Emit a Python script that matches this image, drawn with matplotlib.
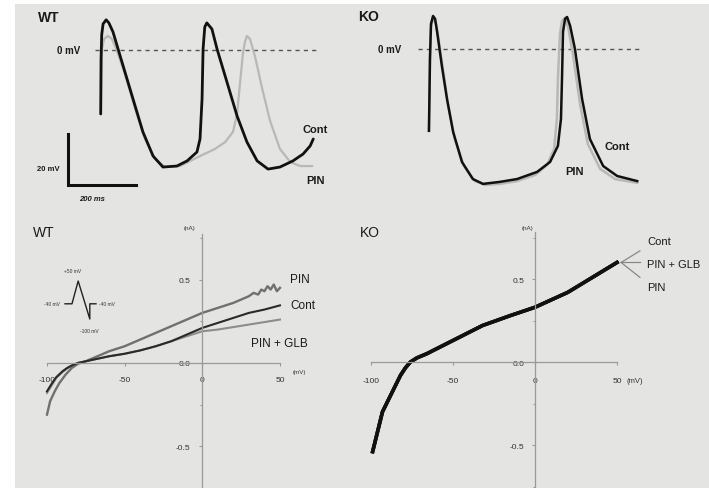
import matplotlib
matplotlib.use("Agg")
import matplotlib.pyplot as plt
from matplotlib.patches import Rectangle

plt.rcParams['font.family'] = ['Liberation Sans', 'DejaVu Sans']

# ---------------- data ----------------
# WT action potentials (time ms, membrane potential mV)
wt_cont_t = [0, 1, 3, 7, 16, 24, 36, 66, 95, 124, 154, 183, 224, 254, 283, 292, 298, 301, 306, 312,
             327, 342, 371, 401, 430, 460, 492, 527, 565, 595, 616, 625]
wt_cont_v = [-25.1, -3.5, 6, 10.2, 11.8, 10.6, 7.1, -6.3, -19.2, -32.1, -41.6, -45.9, -45.5, -43.5, -40,
             -34.9, -19.2, 0.4, 9, 10.6, 8.2, 0.4, -12.5, -25.9, -36.1, -43.5, -46.7, -45.9, -43.5,
             -40.8, -37.6, -34.9]
wt_pin_t = [0, 4, 10, 21, 33, 48, 71, 101, 130, 160, 189, 233, 292, 336, 366, 389, 401, 410, 418, 424,
            430, 439, 454, 475, 498, 527, 557, 586, 622]
wt_pin_v = [-25.1, 0.4, 4.3, 5.5, 4.3, -0.4, -9.4, -23.1, -34.9, -42.7, -45.9, -45.5, -41.6, -38.8,
            -36.1, -32.1, -25.1, -12.5, -1.6, 3.1, 5.5, 4.3, -2.7, -15.3, -27.8, -38.8, -43.9, -45.5, -45.5]

# KO action potentials
ko_cont_t = [0, 3, 6, 12, 18, 24, 38, 53, 71, 97, 129, 159, 209, 259, 318, 356, 379, 388, 391, 394,
             400, 406, 415, 429, 450, 473, 512, 553, 612]
ko_cont_v = [-32.1, -3.9, 9.8, 12.9, 11.8, 6.7, -6.7, -19.6, -32.5, -44.3, -51, -52.9, -52.1, -51,
             -48.2, -44.3, -38, -27.4, -11.8, 6.7, 11.8, 12.5, 9, 0, -19.6, -35.3, -45.9, -49.8, -51.8]
ko_pin_t = [0, 3, 6, 12, 21, 26, 41, 56, 76, 103, 135, 165, 209, 259, 312, 347, 368, 376, 379, 385,
            391, 400, 409, 423, 444, 467, 503, 547, 612]
ko_pin_v = [-32.1, -3.9, 8.6, 12.2, 9.8, 5.9, -7.8, -21.6, -35.3, -45.9, -51.8, -53.3, -52.9, -51.8,
            -49.4, -45.5, -39.2, -27.4, -11.8, 5.9, 11, 12.2, 8.6, -2, -21.6, -37.3, -47, -51, -52.5]

# WT ramp I-V (mV, nA)
iv_v = [-100, -97, -94, -90, -87, -84, -80, -75, -70, -60, -50, -40, -30, -20, -10, 0, 10, 20, 30, 40, 50]
wt_iv_cont = [-0.17, -0.125, -0.085, -0.05, -0.03, -0.015, 0.0, 0.01, 0.02, 0.04, 0.055, 0.075, 0.10,
              0.13, 0.17, 0.21, 0.24, 0.27, 0.30, 0.32, 0.345]
wt_iv_glb = [-0.18, -0.135, -0.09, -0.055, -0.033, -0.017, 0.0, 0.01, 0.02, 0.04, 0.055, 0.075, 0.10,
             0.13, 0.16, 0.19, 0.20, 0.215, 0.23, 0.245, 0.26]
wt_iv_pin_v = [-100, -98, -95, -92, -88, -84, -80, -75, -70, -60, -50, -40, -30, -20, -10, 0, 10, 20,
               25, 30, 33, 36, 38, 40, 42, 44, 46, 48, 50]
wt_iv_pin = [-0.31, -0.23, -0.17, -0.12, -0.07, -0.03, -0.005, 0.01, 0.03, 0.07, 0.10, 0.14, 0.18, 0.22,
             0.26, 0.30, 0.33, 0.36, 0.38, 0.40, 0.42, 0.41, 0.44, 0.43, 0.46, 0.44, 0.47, 0.43, 0.45]

# KO ramp I-V (all three conditions superimpose)
ko_iv_v = [-99, -96, -93, -90, -88, -85, -82, -79, -76, -72, -66, -59, -52, -42, -32, -15, 0, 10, 20,
           35, 50]
ko_iv_cont = [-0.54, -0.42, -0.30, -0.24, -0.20, -0.14, -0.08, -0.035, 0.0, 0.025, 0.05, 0.085, 0.12,
              0.17, 0.22, 0.28, 0.33, 0.375, 0.42, 0.51, 0.60]
ko_iv_pin = list(ko_iv_cont)
ko_iv_glb = list(ko_iv_cont)

# ramp protocol (arbitrary time, mV)
prot_t = [0, 0.9, 1.7, 3.2, 3.2, 4.0]
prot_v = [-40, -40, 50, -100, -40, -40]

x_ticks = [-100, -50, 0, 50]
x_ticklabels = ['-100', '-50', '0', '50']
y_ticks = [-0.5, 0.0, 0.5]
y_ticklabels = ['-0.5', '0.0', '0.5']

# ---------------- figure ----------------
W, H = 709, 489
fig = plt.figure(figsize=(W / 100, H / 100), dpi=100)
fig.patch.set_facecolor('white')
BG = '#e4e4e2'
fig.add_artist(Rectangle((15 / W, 0), 1 - 15 / W, 1 - 5 / H, transform=fig.transFigure,
                         facecolor=BG, edgecolor='none', zorder=-10))


def fbox(x0, y0, x1, y1):
    return [x0 / W, 1 - y1 / H, (x1 - x0) / W, (y1 - y0) / H]


TXT = '#1a1a1a'
AXC = '#9a9a9a'

# ---- top-left: WT APs ----
ax1 = fig.add_axes(fbox(15, 5, 350, 215))
ax1.patch.set_alpha(0)
ax1.axis('off')
ax1.set_xlim(-252, 733)
ax1.set_ylim(-64.3, 18.0)
ax1.plot([-17, 640], [0, 0], color='#555555', lw=1.0, ls=(0, (3, 3)))
ax1.plot(wt_pin_t, wt_pin_v, color='#b8b8b8', lw=1.6, solid_capstyle='round', solid_joinstyle='round')
ax1.plot(wt_cont_t, wt_cont_v, color='#111111', lw=2.0, solid_capstyle='round', solid_joinstyle='round')
ax1.text(-184, 12.9, 'WT', fontsize=10, fontweight='bold', color=TXT, va='center', ha='left')
ax1.text(-61, 0, '0 mV', fontsize=7, fontweight='bold', color=TXT, va='center', ha='right')
ax1.text(630, -31, 'Cont', fontsize=8, fontweight='bold', color=TXT, va='center', ha='center')
ax1.text(633, -51, 'PIN', fontsize=8, fontweight='bold', color=TXT, va='center', ha='center')
ax1.plot([-96, -96, 104], [-32.9, -52.9, -52.9], color='#111111', lw=2.2, solid_joinstyle='miter')
ax1.text(-120, -46.6, '20 mV', fontsize=5.5, fontweight='bold', color=TXT, va='center', ha='right')
ax1.text(-26, -58.2, '200 ms', fontsize=5.5, fontweight='bold', style='italic', color=TXT,
         va='center', ha='center')

# ---- top-right: KO APs ----
ax2 = fig.add_axes(fbox(350, 5, 709, 215))
ax2.patch.set_alpha(0)
ax2.axis('off')
ax2.set_xlim(-232, 823)
ax2.set_ylim(-64.7, 17.6)
ax2.plot([-32, 626], [0, 0], color='#555555', lw=1.0, ls=(0, (3, 3)))
ax2.plot(ko_pin_t, ko_pin_v, color='#b8b8b8', lw=1.8, solid_joinstyle='round')
ax2.plot(ko_cont_t, ko_cont_v, color='#111111', lw=1.8, solid_joinstyle='round')
ax2.text(-209, 12.9, 'KO', fontsize=10, fontweight='bold', color=TXT, va='center', ha='left')
ax2.text(-82, 0, '0 mV', fontsize=7, fontweight='bold', color=TXT, va='center', ha='right')
ax2.text(553, -38, 'Cont', fontsize=8, fontweight='bold', color=TXT, va='center', ha='center')
ax2.text(429, -47.8, 'PIN', fontsize=8, fontweight='bold', color=TXT, va='center', ha='center')


def iv_axes(ax, ytop, xpad, ypad):
    ax.patch.set_alpha(0)
    for s in ('top', 'right'):
        ax.spines[s].set_visible(False)
    ax.spines['left'].set_position(('data', 0))
    ax.spines['bottom'].set_position(('data', 0))
    ax.spines['left'].set_bounds(-1.0, ytop)
    ax.spines['bottom'].set_bounds(-100, 50)
    for s in ('left', 'bottom'):
        ax.spines[s].set_color(AXC)
        ax.spines[s].set_linewidth(0.9)
    ax.set_xticks(x_ticks)
    ax.set_xticklabels(x_ticklabels)
    ax.set_yticks(y_ticks)
    ax.set_yticklabels(y_ticklabels)
    ax.set_yticks([-0.75, -0.25, 0.25, 0.75], minor=True)
    ax.tick_params(axis='x', length=2, width=0.8, color=AXC, pad=xpad, labelsize=6, labelcolor='#333333')
    ax.tick_params(axis='y', length=2, width=0.8, color=AXC, pad=ypad, labelsize=6, labelcolor='#333333')
    ax.tick_params(axis='y', which='minor', length=1.5, width=0.8, color=AXC)


# ---- bottom-left: WT I-V ----
ax3 = fig.add_axes(fbox(15, 215, 350, 489))
ax3.set_xlim(-120.6, 95.1)
ax3.set_ylim(-0.738, 0.893)
iv_axes(ax3, 0.774, 7.5, 6.5)
ax3.plot(iv_v, wt_iv_glb, color='#8c8c8c', lw=1.5, solid_joinstyle='round')
ax3.plot(wt_iv_pin_v, wt_iv_pin, color='#707070', lw=1.7, solid_joinstyle='round')
ax3.plot(iv_v, wt_iv_cont, color='#2a2a2a', lw=1.5, solid_joinstyle='round')
ax3.text(-109, 0.786, 'WT', fontsize=10, color=TXT, va='center', ha='left')
ax3.text(-8, 0.81, '(nA)', fontsize=4.5, color='#333333', va='center', ha='center')
ax3.text(56.5, 0.506, 'PIN', fontsize=8.5, color=TXT, va='center', ha='left')
ax3.text(56.5, 0.345, 'Cont', fontsize=8.5, color=TXT, va='center', ha='left')
ax3.text(31.4, 0.119, 'PIN + GLB', fontsize=8.5, color=TXT, va='center', ha='left')
ax3.text(58.4, -0.054, '(mV)', fontsize=4.5, color='#333333', va='center', ha='left')

# inset: ramp protocol
axp = fig.add_axes(fbox(65, 282, 96, 320))
axp.axis('off')
axp.patch.set_alpha(0)
axp.set_xlim(0, 4)
axp.set_ylim(-100, 50)
axp.plot(prot_t, prot_v, color='#222222', lw=1.0, clip_on=False)
axp.text(1.0, 90, '+50 mV', fontsize=3.5, color='#333333', ha='center', va='center')
axp.text(-0.6, -40, '-40 mV', fontsize=3.5, color='#333333', ha='right', va='center')
axp.text(4.4, -40, '-40 mV', fontsize=3.5, color='#333333', ha='left', va='center')
axp.text(3.2, -147, '-100 mV', fontsize=3.5, color='#333333', ha='center', va='center')

# ---- bottom-right: KO I-V ----
ax4 = fig.add_axes(fbox(350, 215, 709, 489))
ax4.set_xlim(-112.8, 106.1)
ax4.set_ylim(-0.759, 0.892)
iv_axes(ax4, 0.783, 9.0, 5.5)
ax4.plot(ko_iv_v, ko_iv_pin, color='#222222', lw=2.6, solid_joinstyle='round')
ax4.plot(ko_iv_v, ko_iv_glb, color='#1a1a1a', lw=2.6, solid_joinstyle='round')
ax4.plot(ko_iv_v, ko_iv_cont, color='#111111', lw=2.4, solid_joinstyle='round')
ax4.text(-106.7, 0.783, 'KO', fontsize=10, color=TXT, va='center', ha='left')
ax4.text(-4.3, 0.813, '(nA)', fontsize=4.5, color='#333333', va='center', ha='center')
ax4.text(55.5, -0.114, '(mV)', fontsize=5.5, color='#333333', va='center', ha='left')
end_v, end_i = ko_iv_v[-1], ko_iv_cont[-1]
for lab, ty, ly in [('Cont', 0.729, 0.67), ('PIN + GLB', 0.59, 0.60), ('PIN', 0.452, 0.51)]:
    ax4.plot([end_v + 2.5, 64], [end_i, ly], color='#888888', lw=0.9, clip_on=False)
    ax4.text(68.3, ty, lab, fontsize=8, color=TXT, va='center', ha='left')

fig.savefig('out.png', dpi=100, facecolor=fig.get_facecolor())
